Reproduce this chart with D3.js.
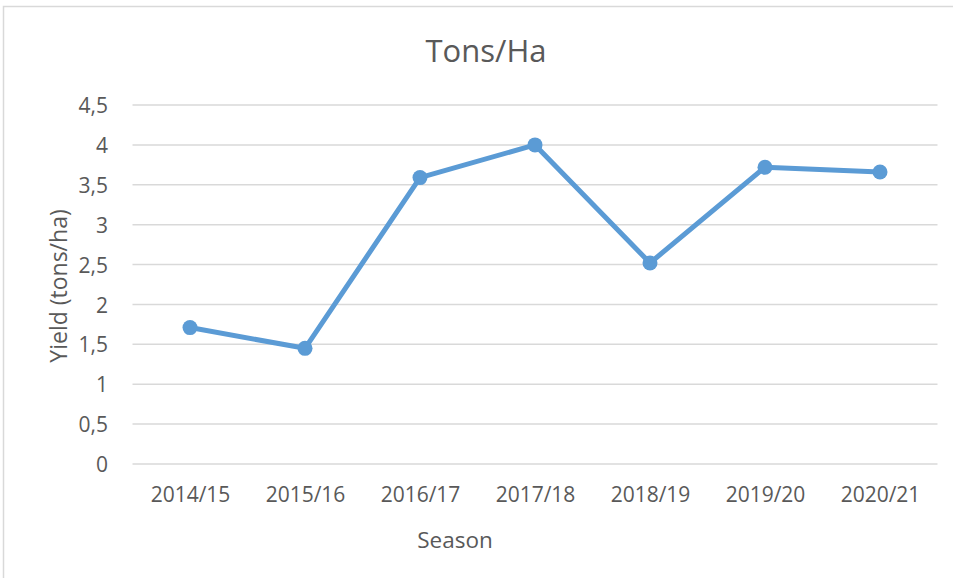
<!DOCTYPE html>
<html lang="en">
  <head>
    <meta charset="UTF-8" />
    <title>Tons/Ha</title>
    <script src="https://d3js.org/d3.v7.min.js"></script>
    <style>
      body { margin: 0; background: #fff; }
      text { font-family: "Open Sans", sans-serif; fill: #595959; }
    </style>
  </head>
  <body>
    <div id="viz"></div>
    <script>
      // data
      const seasons = ["2014/15", "2015/16", "2016/17", "2017/18", "2018/19", "2019/20", "2020/21"];
      const yieldValues = [1.71, 1.45, 3.59, 4.0, 2.52, 3.72, 3.66];
      const yTicks = [0, 0.5, 1, 1.5, 2, 2.5, 3, 3.5, 4, 4.5];

      const W = 953, H = 578;
      const margin = { top: 105, right: 15.5, bottom: 114, left: 132.5 };

      const svg = d3.select("#viz").append("svg")
        .attr("width", W).attr("height", H);

      // chart border
      svg.append("rect")
        .attr("x", 3.5).attr("y", 6.5)
        .attr("width", W + 10).attr("height", H)
        .attr("fill", "#fff").attr("stroke", "#d9d9d9").attr("stroke-width", 1.5);

      const x = d3.scalePoint()
        .domain(seasons)
        .range([margin.left, W - margin.right])
        .padding(0.5);

      const y = d3.scaleLinear()
        .domain([0, 4.5])
        .range([H - margin.bottom, margin.top]);

      // gridlines
      svg.append("g")
        .selectAll("line")
        .data(yTicks)
        .join("line")
        .attr("x1", margin.left).attr("x2", W - margin.right)
        .attr("y1", d => y(d)).attr("y2", d => y(d))
        .attr("stroke", "#d9d9d9").attr("stroke-width", 1.5);

      // y axis labels
      const fmt = d => String(d).replace(".", ",");
      const yAxis = svg.append("g")
        .attr("transform", `translate(108,0)`)
        .call(d3.axisLeft(y).tickValues(yTicks).tickFormat(fmt).tickSize(0).tickPadding(0));
      yAxis.select(".domain").remove();
      yAxis.selectAll("text")
        .attr("font-size", 21).attr("dy", "0.36em")
        .style("font-family", "'Open Sans', sans-serif").attr("fill", "#595959");

      // x axis labels
      const xAxis = svg.append("g")
        .attr("transform", `translate(0,487)`)
        .call(d3.axisBottom(x).tickSize(0).tickPadding(0));
      xAxis.select(".domain").remove();
      xAxis.selectAll("text")
        .attr("font-size", 21)
        .style("font-family", "'Open Sans', sans-serif").attr("fill", "#595959");

      // line + markers
      const line = d3.line()
        .x((d, i) => x(seasons[i]))
        .y(d => y(d));

      svg.append("path")
        .datum(yieldValues)
        .attr("d", line)
        .attr("fill", "none")
        .attr("stroke", "#5b9bd5")
        .attr("stroke-width", 5)
        .attr("stroke-linejoin", "round");

      svg.append("g")
        .selectAll("circle")
        .data(yieldValues)
        .join("circle")
        .attr("cx", (d, i) => x(seasons[i]))
        .attr("cy", d => y(d))
        .attr("r", 7.5)
        .attr("fill", "#5b9bd5");

      // title
      svg.append("text")
        .attr("x", 486).attr("y", 62)
        .attr("text-anchor", "middle")
        .attr("font-size", 31)
        .text("Tons/Ha");

      // axis titles
      svg.append("text")
        .attr("x", 455).attr("y", 548)
        .attr("text-anchor", "middle")
        .attr("font-size", 22.5)
        .text("Season");

      svg.append("text")
        .attr("transform", "translate(67,286) rotate(-90)")
        .attr("text-anchor", "middle")
        .attr("font-size", 23)
        .text("Yield (tons/ha)");
    </script>
  </body>
</html>
